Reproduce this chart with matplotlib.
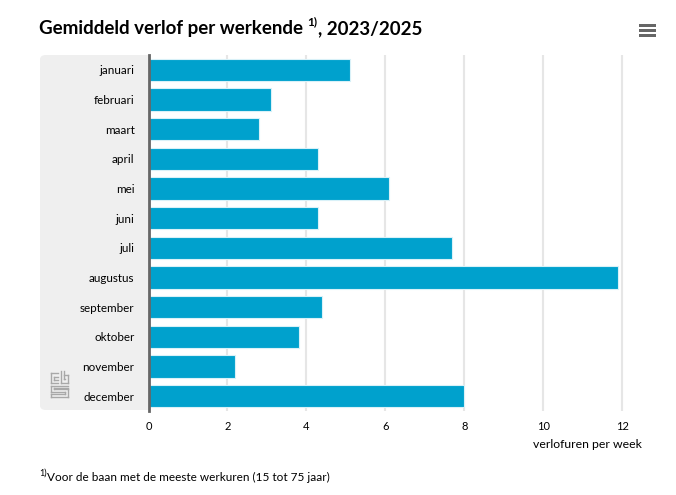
import matplotlib
matplotlib.use("Agg")
import matplotlib.pyplot as plt
from matplotlib.patches import FancyBboxPatch, Rectangle
from matplotlib.lines import Line2D

months = ["januari", "februari", "maart", "april", "mei", "juni", "juli",
          "augustus", "september", "oktober", "november", "december"]
values = [5.1, 3.1, 2.8, 4.3, 6.1, 4.3, 7.7, 11.9, 4.4, 3.8, 2.2, 8.0]
xticks = [0, 2, 4, 6, 8, 10, 12]

W, H = 676, 495
fig = plt.figure(figsize=(W / 100, H / 100), dpi=100)
plt.rcParams['font.family'] = ['Lato', 'DejaVu Sans']

def fx(px):
    return px / W

def fy(py):
    return 1 - py / H

left, right, top, bottom = 148.5, 642, 55, 411
ax = fig.add_axes([fx(left), fy(bottom), fx(right) - fx(left), fy(top) - fy(bottom)])
ax.set_facecolor("white")

# grey band behind category labels
band = FancyBboxPatch((fx(40), fy(410)), fx(160) - fx(40), fy(55) - fy(410),
                      boxstyle="round,pad=0,rounding_size=0.009",
                      transform=fig.transFigure, facecolor="#efefef",
                      edgecolor="none", zorder=-1)
fig.patches.append(band)

ypos = list(range(len(months)))
ax.barh(ypos, values, height=0.76, color="#00a1cd", edgecolor="#d9f1f8",
        linewidth=0.8, zorder=3)
ax.set_ylim(len(months) - 0.5, -0.5)
ax.set_xlim(0, 12.5)
ax.set_xticks(xticks)
ax.set_xticklabels([str(t) for t in xticks], fontsize=8, color="#000000")
ax.set_yticks(ypos)
ax.set_yticklabels(months, fontsize=8.4, color="#000000")
ax.tick_params(axis="both", length=0)
ax.tick_params(axis="y", pad=10)
ax.tick_params(axis="x", pad=7)
ax.xaxis.grid(True, color="#e6e6e6", linewidth=1.5, zorder=0)
ax.set_axisbelow(True)
for s in ["top", "right", "bottom"]:
    ax.spines[s].set_visible(False)
ax.spines["left"].set_color("#666666")
ax.spines["left"].set_linewidth(2)
ax.spines["left"].set_zorder(4)

ax.set_xlabel("verlofuren per week", fontsize=8.8, color="#000000", loc="right",
              labelpad=5)

# title with superscript
renderer = fig.canvas.get_renderer()
t1 = fig.text(fx(39), fy(34), "Gemiddeld verlof per werkende ", fontsize=13.5,
              fontweight="bold", color="#000000", va="baseline")
bb = t1.get_window_extent(renderer)
t2 = fig.text(bb.x1 / W, fy(25), "1)", fontsize=8.5, fontweight="bold",
              color="#000000", va="baseline")
bb2 = t2.get_window_extent(renderer)
fig.text(bb2.x1 / W, fy(34), ", 2023/2025", fontsize=13.5, fontweight="bold",
         color="#000000", va="baseline")

# footnote
f1 = fig.text(fx(39), fy(476), "1)", fontsize=6.5, color="#000000", va="baseline")
fb = f1.get_window_extent(renderer)
fig.text(fb.x1 / W, fy(481), "Voor de baan met de meeste werkuren (15 tot 75 jaar)",
         fontsize=8.5, color="#000000", va="baseline")

# hamburger menu icon
for yy in [25.5, 30.5, 35.5]:
    fig.patches.append(Rectangle((fx(638.5), fy(yy + 1.25)), fx(17), 2.5 / H,
                                 transform=fig.transFigure, facecolor="#666666",
                                 edgecolor="none"))

# simple cbs logo
lc = "#a8a8a8"
segs = [
    # c
    [(51, 373), (58, 373)], [(51, 373), (51, 383)], [(51, 383), (58, 383)],
    [(54, 377), (58, 377)], [(54, 377), (54, 380)], [(54, 380), (58, 380)],
    # b
    [(61, 371), (61, 383)], [(61, 383), (68, 383)], [(68, 383), (68, 375)],
    [(68, 375), (64, 375)], [(64, 371), (64, 379)], [(64, 379), (65, 379)],
    # S
    [(51, 386), (68, 386)], [(51, 386), (51, 392)], [(51, 392), (65, 392)],
    [(65, 392), (65, 394)], [(65, 394), (51, 394)], [(51, 394), (51, 397)],
    [(51, 397), (68, 397)], [(68, 397), (68, 389)], [(68, 389), (54, 389)],
    [(54, 389), (54, 388)], [(54, 388), (68, 388)],
]
for (xa, ya), (xb, yb) in segs:
    fig.lines.append(Line2D([fx(xa), fx(xb)], [fy(ya), fy(yb)],
                            transform=fig.transFigure, color=lc, linewidth=1))

fig.savefig("out.png", dpi=100, facecolor="white")
